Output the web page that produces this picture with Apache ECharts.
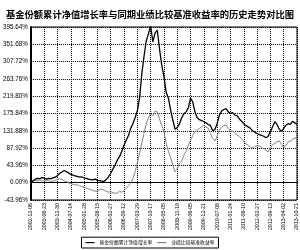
<!DOCTYPE html>
<html><head><meta charset="utf-8">
<script src="https://cdn.jsdelivr.net/npm/echarts@6/dist/echarts.min.js"></script>
<style>html,body{margin:0;padding:0;background:#fff}#c{width:300px;height:250px}</style>
</head><body><div id="c"></div>
<script>
const chartTitle = "基金份额累计净值增长率与同期业绩比较基准收益率的历史走势对比图";
const seriesNames = ["基金份额累计净值增长率", "业绩比较基准收益率"];
const tickLabels = ["2002-12-06","2003-06-23","2003-12-30","2004-07-14","2005-01-28","2005-08-15","2006-02-27","2006-09-12","2007-03-29","2007-10-17","2008-05-05","2008-11-19","2009-06-05","2009-12-21","2010-07-08","2011-01-24","2011-08-10","2012-02-27","2012-09-13","2013-04-02","2013-10-21"];
const fundValues = [0,5,9,11,10,13,12,9,11,10,12,14,18,24,27,31,28,25,21,19,17,16,14,15,12,11,9,8,7,9,6,5,4,3,8,15,24,35,45,58,66,80,95,108,120,138,150,165,182,215,275,320,360,378,398,358,380,388,340,300,270,230,215,185,160,136,140,150,165,175,180,190,215,205,180,165,160,158,155,152,148,145,132,135,150,172,182,186,188,180,176,178,172,170,162,156,150,145,142,138,132,128,125,122,120,118,114,118,130,142,155,148,136,130,138,146,150,148,156,152,148];
const benchValues = [0,3,6,5,7,6,4,6,5,3,4,6,8,10,9,5,3,0,-2,-4,-6,-5,-8,-10,-12,-14,-16,-18,-20,-22,-21,-18,-16,-19,-22,-24,-23,-25,-27,-26,-22,-24,-20,-14,-8,-2,10,28,50,75,100,125,150,165,175,170,182,180,162,145,130,100,80,64,45,28,35,50,55,70,80,95,108,120,130,134,138,142,146,142,138,125,112,106,118,134,140,145,147,138,130,132,125,122,118,112,105,98,96,90,88,92,93,94,90,86,82,78,88,97,100,104,106,98,90,94,104,106,110,114,112];
const yStep = 43.96;

const pts = arr => arr.map((v,i)=>[i,v]);
const perTick = (fundValues.length-1)/(tickLabels.length-1);
const chart = echarts.init(document.getElementById('c'), null, {renderer:'canvas'});
chart.setOption({
  backgroundColor:'#fff',
  animation:false,
  title:{text:chartTitle,left:'center',top:5,textStyle:{fontSize:9.3,fontWeight:'bold',color:'#000',fontFamily:'Noto Sans CJK SC'}},
  grid:{left:30,right:3,top:27,bottom:50,show:true,borderColor:'#000',borderWidth:1},
  xAxis:{type:'value',min:0,max:fundValues.length-1,interval:perTick,
    axisLine:{show:true,lineStyle:{color:'#000',width:1}},axisTick:{show:false},
    splitLine:{show:true,lineStyle:{type:'dotted',color:'#000',width:1}},
    axisLabel:{rotate:90,fontSize:5.3,color:'#000',margin:3,fontFamily:'Liberation Sans',
      formatter:v=>tickLabels[Math.round(v/perTick)]||''}},
  yAxis:{type:'value',min:-yStep,max:yStep*9,interval:yStep,
    axisLine:{show:true,lineStyle:{color:'#000',width:2}},axisTick:{show:false},
    splitLine:{show:true,lineStyle:{type:'dotted',color:'#000',width:1}},
    axisLabel:{fontSize:6.3,color:'#000',margin:3,fontFamily:'Liberation Sans',
      formatter:v=>v.toFixed(2)+'%'}},
  legend:{bottom:2,left:'center',orient:'horizontal',itemGap:5,itemWidth:9,itemHeight:1.2,icon:'rect',
    borderColor:'#000',borderWidth:1,padding:[3,4],
    textStyle:{fontSize:4.8,color:'#000',fontFamily:'Noto Sans CJK SC'},
    data:seriesNames},
  series:[
    {name:seriesNames[0],type:'line',data:pts(fundValues),showSymbol:false,lineStyle:{color:'#000',width:1.3},itemStyle:{color:'#000'},z:3},
    {name:seriesNames[1],type:'line',data:pts(benchValues),showSymbol:false,lineStyle:{color:'#808080',width:1},itemStyle:{color:'#808080'},z:2}
  ]
});
</script></body></html>
